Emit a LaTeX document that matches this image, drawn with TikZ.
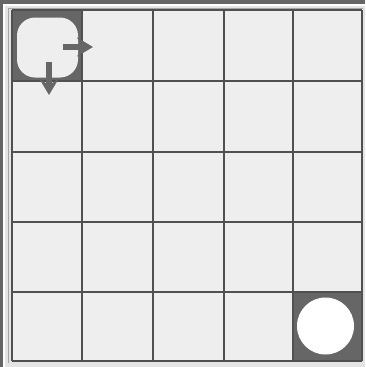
\documentclass[tikz,border=0pt]{standalone}
\usetikzlibrary{arrows.meta}
\definecolor{darkc}{HTML}{666666}
\definecolor{gridc}{HTML}{505050}
\definecolor{cellc}{HTML}{EEEEEE}
\definecolor{bgc}{HTML}{E4E4E4}
\tikzset{
  gridline/.style={draw=gridc, line width=1.7pt},
  darkcell/.style={fill=darkc},
  movearrow/.style={draw=darkc, fill=darkc, line width=5.5pt,
    -{Stealth[length=16pt, width=19pt, inset=6pt]}},
}
\begin{document}
\begin{tikzpicture}[x=1pt,y=-1pt]
\useasboundingbox (0,0) rectangle (365,367);
% background frame
\fill[bgc] (0,0) rectangle (365,367);
\fill[darkc] (0,0) rectangle (365,3.5);
\fill[darkc] (0,0) rectangle (2.5,367);
\draw[white, line width=1.2pt] (4,367) -- (4,5) -- (365,5);
\draw[gray!70, line width=0.6pt] (8,363) -- (8,8) -- (363,8);
% cells
\fill[cellc] (12,10) rectangle (362,361);
% start cell
\fill[darkc] (12,10) rectangle (82,81);
\node[fill=cellc, rounded corners=18pt, minimum width=61pt, minimum height=60pt, inner sep=0pt] (start) at (47.5,47.5) {};
% goal cell
\fill[darkc] (292,292) rectangle (362,362);
\node[circle, fill=white, minimum size=57pt, inner sep=0pt] (goal) at (325.5,326) {};
% grid
\foreach \x in {12,82,153,224,293,362} \draw[gridline] (\x,10) -- (\x,361);
\foreach \y in {10,81,152,222,292,361} \draw[gridline] (12,\y) -- (362,\y);
% arrows
\coordinate (rA) at (63,47);
\coordinate (rB) at (93,47);
\coordinate (dA) at (49,62);
\coordinate (dB) at (49,95);
\draw[movearrow] (rA) -- (rB);
\draw[movearrow] (dA) -- (dB);
\end{tikzpicture}
\end{document}
